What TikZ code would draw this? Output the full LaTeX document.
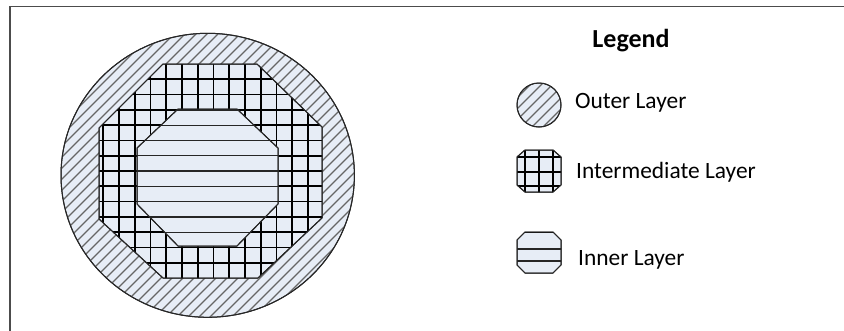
\documentclass[tikz,border=0pt]{standalone}
\usepackage{fontspec}
\setmainfont{Carlito}
\usetikzlibrary{positioning}
\definecolor{layerfill}{RGB}{231,237,246}

\def\midoct{(163,64) -- (257,64) -- (322,127) -- (322,218) -- (258,278) -- (163,278) -- (99,219) -- (99,128) -- cycle}
\def\inoct{(178,109) -- (237,109) -- (278,148) -- (278,204) -- (237,246) -- (178,246) -- (137,204) -- (137,148) -- cycle}
\def\midkey{(525,150) -- (553,150) -- (561,157) -- (561,185) -- (553,192) -- (525,192) -- (517,185) -- (517,157) -- cycle}
\def\inkey{(525,232) -- (553,232) -- (561,240) -- (561,265) -- (553,273) -- (525,273) -- (517,265) -- (517,240) -- cycle}

\begin{document}
\begin{tikzpicture}[x=1pt,y=-1pt]
\tikzstyle{layer} = [draw=black!85, line width=1pt, fill=layerfill]
\tikzstyle{hatch} = [draw=black!60, line width=1.4pt]
\tikzstyle{gridline} = [draw=black, line width=1.7pt]
\tikzstyle{bandline} = [draw=black!85, line width=1.3pt]
\tikzstyle{keytext} = [anchor=base west, inner sep=0pt, font=\fontsize{23.4}{28}\selectfont]

\useasboundingbox (0,0) rectangle (844,330);
\draw[black!70, line width=1.5pt] (10,6.5) rectangle (860,345);

\path[layer] (207.7,175.3) ellipse [x radius=146.7, y radius=142];
\begin{scope}
\clip (207.7,175.3) ellipse [x radius=146.7, y radius=142];
\foreach \c in {175,186,...,595} \draw[hatch] (\c-350,350) -- (\c,0);
\end{scope}
\draw[layer, fill=none] (207.7,175.3) ellipse [x radius=146.7, y radius=142];

\path[layer] \midoct;
\begin{scope}
\clip \midoct;
\foreach \i in {0,...,13} \draw[gridline] ({103.3+15.75*\i},60) -- ++(0,225);
\foreach \i in {1,...,13} \draw[gridline] (95,{64+15.29*\i}) -- ++(232,0);
\end{scope}
\draw[layer, fill=none] \midoct;

\path[layer] \inoct;
\begin{scope}
\clip \inoct;
\foreach \i in {1,...,13} \draw[bandline] (130,{64+15.29*\i}) -- ++(160,0);
\end{scope}
\draw[layer, fill=none] \inoct;

\node (legend) [anchor=base, inner sep=0pt, font=\fontsize{26}{30}\selectfont\bfseries] at (631,47) {Legend};

\path[layer] (539,105) circle [radius=22];
\begin{scope}
\clip (539,105) circle [radius=22];
\foreach \c in {604,615,...,684} \draw[hatch, line width=1.2pt] (\c-150,150) -- (\c,0);
\end{scope}
\draw[layer, fill=none] (539,105) circle [radius=22];
\node (outer) [keytext] at (575,108) {Outer Layer};

\path[layer] \midkey;
\begin{scope}
\clip \midkey;
\foreach \x in {525,539,553} \draw[gridline] (\x,145) -- ++(0,52);
\foreach \y in {157,172,186} \draw[gridline] (512,\y) -- ++(54,0);
\end{scope}
\draw[layer, fill=none] \midkey;
\node (intermediate) [keytext] at (576,178) {Intermediate Layer};

\path[layer] \inkey;
\begin{scope}
\clip \inkey;
\draw[gridline] (512,232.5) -- ++(54,0);
\foreach \y in {249,261} \draw[bandline] (512,\y) -- ++(54,0);
\end{scope}
\draw[layer, fill=none] \inkey;
\node (inner) [keytext] at (578,265) {Inner Layer};
\end{tikzpicture}
\end{document}
